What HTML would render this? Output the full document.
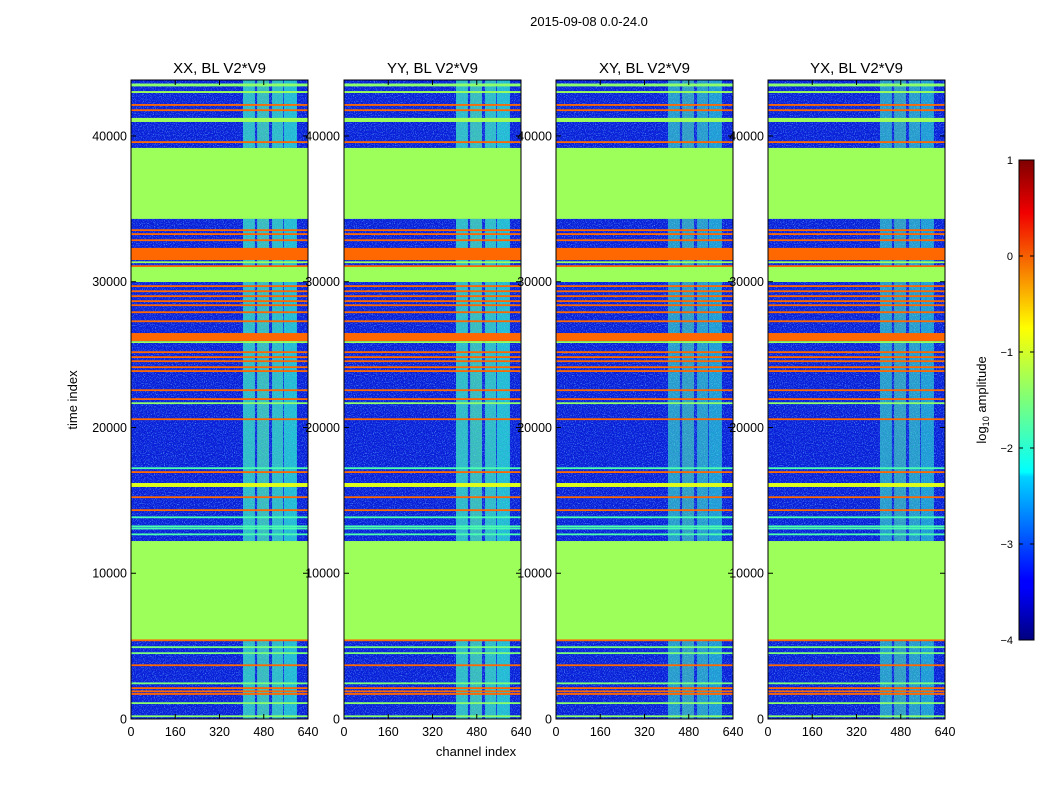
<!DOCTYPE html>
<html><head><meta charset="utf-8"><style>
body{margin:0;background:#fff;width:1050px;height:800px;overflow:hidden;font-family:"Liberation Sans",sans-serif}
</style></head><body>
<svg id="chart" width="1050" height="800" xmlns="http://www.w3.org/2000/svg" font-family="Liberation Sans, sans-serif">
<defs>
<filter id="noise" x="0" y="0" width="100%" height="100%">
<feTurbulence type="fractalNoise" baseFrequency="0.9" numOctaves="2" seed="3" result="t"/>
<feColorMatrix type="matrix" values="0 0 0 0 0.1  0 0 0 0 0.45  0 0 0 0 1  0 0 0 2.4 -1.2"/>
</filter>
<filter id="noise2" x="0" y="0" width="100%" height="100%">
<feTurbulence type="fractalNoise" baseFrequency="0.7" numOctaves="2" seed="7"/>
<feColorMatrix type="matrix" values="0 0 0 0 0.1  0 0 0 0 0.3  0 0 0 0 0.95  0 0 0 2.2 -1.0"/>
</filter>
<linearGradient id="jetgrad" x1="0" y1="1" x2="0" y2="0">
<stop offset="0" stop-color="#00007f"/><stop offset="0.11" stop-color="#0000ff"/><stop offset="0.125" stop-color="#0000ff"/>
<stop offset="0.34" stop-color="#00d4ff"/><stop offset="0.35" stop-color="#0ff"/><stop offset="0.5" stop-color="#7dff7a"/>
<stop offset="0.65" stop-color="#ff0"/><stop offset="0.89" stop-color="#f10000"/><stop offset="1" stop-color="#7f0000"/>
</linearGradient>
</defs>
<text x="589" y="26" font-size="13" text-anchor="middle">2015-09-08 0.0-24.0</text>
<text x="476" y="756" font-size="13" text-anchor="middle">channel index</text>
<text transform="translate(77,400) rotate(-90)" font-size="13" text-anchor="middle">time index</text>
<g id="panels"></g>
<g id="cbar"></g>
</svg>
<script>
const panelTitles=["XX, BL V2*V9","YY, BL V2*V9","XY, BL V2*V9","YX, BL V2*V9"];
const panelLefts=[131,344,556,768];
const yTicks=[0,10000,20000,30000,40000];
const xTicks=[0,160,320,480,640];
const cbTicks=[1,0,-1,-2,-3,-4];
// horizontal bands: start time, end time, log10 amplitude
const bandStart=[43400,42950,42080,41730,40960,39530,34310,33500,33230,32810,31490,31320,31030,29980,29660,29310,28970,28630,28350,27870,27250,25930,25820,25130,24790,24510,24100,23830,22520,21910,21630,20530,17170,16900,15920,15180,14290,13810,13190,13050,12640,5420,5380,4890,4480,3650,2420,2080,1880,1680,1050,150];
const bandEnd=  [43600,43080,42190,41830,41240,39640,39180,33600,33330,32910,32320,31400,31130,31010,29760,29410,29070,28730,28450,27970,27350,26480,25920,25230,24890,24610,24200,23930,22620,22010,21730,20630,17270,17000,16190,15280,14390,13900,13280,13130,12730,12210,5460,4990,4580,3750,2510,2180,1960,1780,1150,250];
const bandLevel=[-1.4,-1.3,0,0,-1.3,0,-1.3,0,0,0,0,-1.3,0,-1.3,0,0,0,0,0,0,0,0,-1.3,0,0,0,0,0,0,0,-1.4,0,-1.8,0,-0.9,0,0,-1.8,-1.8,-1.8,-1.8,-1.3,0,-1.5,-1.5,0,-1.5,0,0,0,-1.4,-1.4];
// elevated channel blocks
const chanStart=[405,456,510,553];
const chanEnd=[448,499,550,600];
const chanLevel=[-1.9,-1.8,-1.9,-2.0];
const activeStart=[0,12210,39180];
const activeEnd=[5420,34310,43840];
const TMAX=43840,CMAX=640,PT=80,PB=719,PW=177;
function seg(v,pts){for(let i=1;i<pts.length;i++){if(v<=pts[i][0]){const a=pts[i-1],b=pts[i];return a[1]+(b[1]-a[1])*(v-a[0])/(b[0]-a[0]);}}return pts[pts.length-1][1];}
function jet(l){let v=Math.max(0,Math.min(1,(l+4)/5));
 const r=seg(v,[[0,0],[0.35,0],[0.66,1],[0.89,1],[1,0.5]]);
 const g=seg(v,[[0,0],[0.125,0],[0.375,1],[0.64,1],[0.91,0],[1,0]]);
 const b=seg(v,[[0,0.5],[0.11,1],[0.34,1],[0.65,0],[1,0]]);
 return `rgb(${Math.round(r*255)},${Math.round(g*255)},${Math.round(b*255)})`;}
const NS="http://www.w3.org/2000/svg";
function mk(tag,attrs,parent){const e=document.createElementNS(NS,tag);for(const k in attrs)e.setAttribute(k,attrs[k]);parent.appendChild(e);return e;}
const yS=t=>PB-(t/TMAX)*(PB-PT);
const root=document.getElementById('panels');
panelTitles.forEach((title,p)=>{
 const L=panelLefts[p];const xS=c=>L+(c/CMAX)*PW;
 const g=mk('g',{},root);
 
 
 const bg=mk('rect',{x:L,y:PT,width:PW,height:PB-PT,fill:'#0a1ed8'},g);
 
 
 const nz=mk('rect',{x:L,y:PT,width:PW,height:PB-PT,fill:'#fff',filter:'url(#noise)'},g);
 
 
 const fade=p>=2?0.55:0.7;
 activeStart.forEach((a,i)=>{chanStart.forEach((c,j)=>{
  const r=mk('rect',{x:xS(c),y:yS(activeEnd[i]),width:xS(chanEnd[j])-xS(c),height:yS(a)-yS(activeEnd[i]),fill:jet(chanLevel[j]),opacity:fade},g);
  
  
 });});
 const nz2=mk('rect',{x:xS(chanStart[0]),y:PT,width:xS(chanEnd[3])-xS(chanStart[0]),height:PB-PT,fill:'#fff',filter:'url(#noise2)',opacity:0.6},g);
 
 
 bandStart.forEach((s,i)=>{
  const y1=yS(bandEnd[i]),y2=yS(s);
  const r=mk('rect',{x:L,y:y1,width:PW,height:Math.max(1.8,y2-y1),fill:jet(bandLevel[i])},g);
  
  
 });
 const fr=mk('rect',{x:L,y:PT,width:PW,height:PB-PT,fill:'none',stroke:'#000','stroke-width':1},g);
 
 
 const tt=mk('text',{x:L+PW/2,y:73,'font-size':15,'text-anchor':'middle'},g);tt.textContent=title;
 
 
 yTicks.forEach(t=>{const y=yS(t);
  mk('line',{x1:L,x2:L+5,y1:y,y2:y,stroke:'#000'},g);mk('line',{x1:L+PW-5,x2:L+PW,y1:y,y2:y,stroke:'#000'},g);
  const tx=mk('text',{x:L-4,y:y+4.5,'font-size':12.5,'text-anchor':'end'},g);tx.textContent=t;
  
  
 });
 xTicks.forEach(c=>{const x=xS(c);
  mk('line',{x1:x,x2:x,y1:PB,y2:PB-5,stroke:'#000'},g);mk('line',{x1:x,x2:x,y1:PT,y2:PT+5,stroke:'#000'},g);
  const tx=mk('text',{x:x,y:736,'font-size':12.5,'text-anchor':'middle'},g);tx.textContent=c;
  
  
 });
});
const cb=document.getElementById('cbar');
const CT=160,CB=640,CX=1019,CW=15;
const cr=mk('rect',{x:CX,y:CT,width:CW,height:CB-CT,fill:'url(#jetgrad)',stroke:'#000'},cb);


cbTicks.forEach(v=>{const y=CB-(v+4)/5*(CB-CT);
 mk('line',{x1:CX,x2:CX+4,y1:y,y2:y,stroke:'#000'},cb);mk('line',{x1:CX+CW-4,x2:CX+CW,y1:y,y2:y,stroke:'#000'},cb);
 const tx=mk('text',{x:1013,y:y+4,'font-size':11,'text-anchor':'end'},cb);tx.textContent=(v<0?'\u2212'+(-v):v);
 
 
});
const lab=mk('text',{transform:'translate(986,400) rotate(-90)','font-size':13,'text-anchor':'middle'},cb);


lab.innerHTML='log<tspan font-size="9" dy="3">10</tspan><tspan dy="-3"> amplitude</tspan>';
</script>
</body></html>
